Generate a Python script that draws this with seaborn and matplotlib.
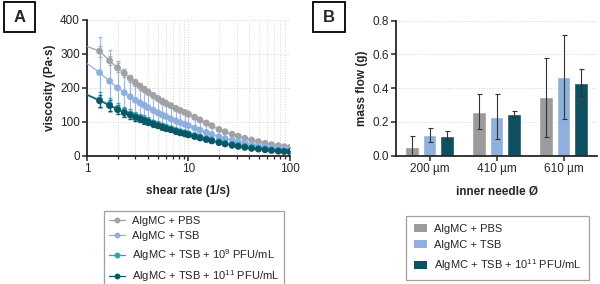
import numpy as np
import pandas as pd
import matplotlib
matplotlib.use("Agg")
import matplotlib.pyplot as plt
from matplotlib.lines import Line2D
from matplotlib.patches import Patch, Rectangle
from matplotlib.ticker import LogLocator, FixedLocator, FixedFormatter, NullFormatter
import seaborn as sns

# ---------------- data: panel A (viscosity vs shear rate) ----------------
shear_rate = [1.33, 1.67, 2.0, 2.33, 2.67, 3.0, 3.33, 3.67, 4.0, 4.5, 5.0, 5.5, 6.0,
              6.7, 7.5, 8.3, 9.2, 10, 11.5, 13, 15, 17, 20, 23, 27, 31, 36, 42,
              49, 57, 66, 77, 88, 100]

visc_pbs = [308, 280, 259, 243, 228, 215, 205, 196, 188, 178, 169, 161, 155,
            148, 140, 134, 128, 123, 114, 106, 97, 89, 78, 71, 64, 58, 52, 47,
            42, 37, 33, 30, 27, 25]
err_pbs = [16, 14, 13, 12, 11, 10, 10, 9, 9, 8, 8, 8, 7,
           7, 7, 6, 6, 6, 5, 5, 5, 4, 4, 4, 3, 3, 3, 3, 2, 2, 2, 2, 2, 2]

visc_tsb = [245, 220, 200, 186, 174, 164, 156, 149, 142, 134, 127, 121, 116,
            109, 103, 98, 93, 89, 82, 76, 69, 63, 56, 51, 46, 42, 38, 34,
            30, 27, 24, 22, 20, 18]
err_tsb = [105, 90, 78, 70, 64, 59, 55, 52, 49, 46, 43, 41, 39,
           36, 34, 32, 30, 29, 26, 24, 22, 20, 18, 16, 14, 13, 12, 11,
           10, 9, 8, 7, 6, 6]

visc_e9 = [165, 151, 139, 130, 123, 117, 112, 107, 103, 97, 92, 88, 84,
           80, 75, 71, 68, 65, 60, 56, 51, 47, 42, 38, 34, 31, 28, 25,
           22, 20, 18, 16, 14, 13]
err_e9 = [22, 19, 17, 15, 14, 13, 12, 12, 11, 10, 10, 9, 9,
          8, 8, 7, 7, 7, 6, 6, 5, 5, 4, 4, 4, 3, 3, 3, 3, 2, 2, 2, 2, 2]

visc_e11 = [162, 148, 136, 127, 120, 114, 109, 104, 100, 94, 89, 85, 81,
            77, 72, 68, 65, 62, 57, 53, 48, 44, 39, 35, 31, 28, 25, 22,
            20, 18, 16, 14, 13, 12]
err_e11 = [18, 16, 14, 13, 12, 11, 10, 10, 9, 9, 8, 8, 7,
           7, 7, 6, 6, 6, 5, 5, 5, 4, 4, 4, 3, 3, 3, 3, 2, 2, 2, 2, 2, 2]

# fitted curves start at shear rate 1
fit_start_rate = 1.0
fit_start = [322, 272, 181, 179]

series_a = ["AlgMC + PBS", "AlgMC + TSB",
            "AlgMC + TSB + 10$^{9}$ PFU/mL", "AlgMC + TSB + 10$^{11}$ PFU/mL"]
colors_a = ["#a2a2a6", "#8fb0de", "#1fa7b4", "#0e5566"]

# ---------------- data: panel B (mass flow per needle) ----------------
needles = ["200 µm", "410 µm", "610 µm"]
series_b = ["AlgMC + PBS", "AlgMC + TSB", "AlgMC + TSB + 10$^{11}$ PFU/mL"]
flow_pbs = [0.053, 0.261, 0.346]
flow_tsb = [0.122, 0.231, 0.466]
flow_e11 = [0.119, 0.247, 0.433]
sd_pbs = [0.062, 0.103, 0.233]
sd_tsb = [0.043, 0.133, 0.248]
sd_e11 = [0.029, 0.019, 0.082]
colors_b = ["#9b9b9f", "#8fb0dc", "#0e4f60"]

# ---------------- style ----------------
sns.set_style("ticks")
plt.rcParams["font.family"] = ["Liberation Sans", "DejaVu Sans"]
plt.rcParams["mathtext.fontset"] = "custom"
plt.rcParams["mathtext.rm"] = "Liberation Sans"
plt.rcParams["mathtext.default"] = "regular"
plt.rcParams["axes.linewidth"] = 1.3
TICK = 8.5
LAB = 8.5
LEG = 8.0

fig = plt.figure(figsize=(6.0, 2.84), dpi=100)
ax1 = fig.add_axes([0.145, 0.451, 0.338, 0.479])
ax2 = fig.add_axes([0.660, 0.452, 0.335, 0.475])

# ---------------- panel A ----------------
visc_all = [visc_pbs, visc_tsb, visc_e9, visc_e11]
err_all = [err_pbs, err_tsb, err_e9, err_e11]

rows = []
fit_rows = []
for name, v, e, f0 in zip(series_a, visc_all, err_all, fit_start):
    fit_rows.append({"rate": fit_start_rate, "visc": f0, "group": name})
    for r, vv, ee in zip(shear_rate, v, e):
        rows.append({"rate": r, "visc": vv, "err": ee, "group": name})
        fit_rows.append({"rate": r, "visc": vv, "group": name})
df_a = pd.DataFrame(rows)
df_fit = pd.DataFrame(fit_rows)
pal_a = dict(zip(series_a, colors_a))

for i, name in enumerate(series_a):
    sub = df_a[df_a["group"] == name]
    ax1.errorbar(sub["rate"], sub["visc"], yerr=sub["err"], fmt="none",
                 ecolor=colors_a[i], elinewidth=0.9, capsize=1.5,
                 capthick=0.9, alpha=0.85, zorder=2 + i)
sns.lineplot(data=df_fit, x="rate", y="visc", hue="group", palette=pal_a,
             linewidth=0.9, legend=False, ax=ax1, zorder=3, sort=True)
sns.scatterplot(data=df_a, x="rate", y="visc", hue="group", palette=pal_a,
                s=24, linewidth=0, legend=False, ax=ax1, zorder=6)

ax1.set_xscale("log")
ax1.set_xlim(1, 100)
ax1.set_ylim(0, 400)
ax1.xaxis.set_major_locator(FixedLocator([1, 10, 100]))
ax1.xaxis.set_major_formatter(FixedFormatter(["1", "10", "100"]))
ax1.xaxis.set_minor_locator(LogLocator(base=10, subs=np.arange(2, 10)))
ax1.xaxis.set_minor_formatter(NullFormatter())
ax1.set_yticks([0, 100, 200, 300, 400])
ax1.grid(True, which="both", axis="x", color="#d4d4d4", linestyle=":", linewidth=0.7)
ax1.grid(True, which="major", axis="y", color="#d4d4d4", linestyle=":", linewidth=0.7)
ax1.set_axisbelow(True)
ax1.tick_params(axis="both", which="major", labelsize=TICK, length=3.5, width=1.1, pad=1.5)
ax1.tick_params(axis="x", which="minor", length=2.2, width=0.9)
ax1.set_xlabel("shear rate (1/s)", fontsize=LAB, fontweight="bold", labelpad=7)
ax1.set_ylabel("viscosity (Pa·s)", fontsize=LAB, fontweight="bold", labelpad=3)
sns.despine(ax=ax1)

handles_a = [Line2D([0], [0], color=c, marker="o", markersize=3.2, linewidth=0.9)
             for c in colors_a]
leg_a = fig.legend(handles_a, series_a, loc="upper left",
                   bbox_to_anchor=(0.167, 0.27), fontsize=LEG, frameon=True,
                   fancybox=False, edgecolor="#888888", handlelength=1.5,
                   handletextpad=0.6, borderpad=0.45, borderaxespad=0.3,
                   labelspacing=0.5)
leg_a.get_frame().set_linewidth(0.9)

# ---------------- panel B ----------------
flows = [flow_pbs, flow_tsb, flow_e11]
sds = [sd_pbs, sd_tsb, sd_e11]
rows_b = []
for name, fl in zip(series_b, flows):
    for nd, val in zip(needles, fl):
        rows_b.append({"needle": nd, "flow": val, "group": name})
df_b = pd.DataFrame(rows_b)

sns.barplot(data=df_b, x="needle", y="flow", hue="group",
            palette=dict(zip(series_b, colors_b)), width=0.8, gap=0.22,
            saturation=1, errorbar=None, legend=False, ax=ax2, zorder=2)
for cont, fl, sd in zip(ax2.containers, flows, sds):
    xs = [b.get_x() + b.get_width() / 2 for b in cont]
    ax2.errorbar(xs, fl, yerr=sd, fmt="none", ecolor="#333333",
                 elinewidth=0.8, capsize=1.8, capthick=0.8, zorder=4)

ax2.set_ylim(0, 0.8)
ax2.set_xlim(-0.5, 2.5)
ax2.set_yticks([0.0, 0.2, 0.4, 0.6, 0.8])
ax2.set_yticklabels(["0.0", "0.2", "0.4", "0.6", "0.8"])
ax2.grid(True, axis="y", color="#d4d4d4", linestyle=":", linewidth=0.7)
ax2.set_axisbelow(True)
ax2.tick_params(axis="both", labelsize=TICK, length=3.5, width=1.1, pad=1.5)
ax2.set_xlabel("inner needle Ø", fontsize=LAB, fontweight="bold", labelpad=8)
ax2.set_ylabel("mass flow (g)", fontsize=LAB, fontweight="bold", labelpad=3)
sns.despine(ax=ax2)

handles_b = [Patch(facecolor=c, edgecolor="none") for c in colors_b]
leg_b = fig.legend(handles_b, series_b, loc="upper left",
                   bbox_to_anchor=(0.671, 0.252), fontsize=LEG, frameon=True,
                   fancybox=False, edgecolor="#888888", handlelength=1.2,
                   handleheight=0.75, handletextpad=0.6, borderpad=0.7,
                   borderaxespad=0.3, labelspacing=0.6)
leg_b.get_frame().set_linewidth(0.9)

# ---------------- panel letters ----------------
for lx, letter in [(0.006, "A"), (0.522, "B")]:
    fig.patches.append(Rectangle((lx, 0.886), 0.053, 0.107, transform=fig.transFigure,
                                 facecolor="white", edgecolor="black", linewidth=1.3))
    fig.text(lx + 0.0265, 0.939, letter, ha="center", va="center",
             fontsize=12, fontweight="bold")

fig.savefig("out.png", dpi=100)
